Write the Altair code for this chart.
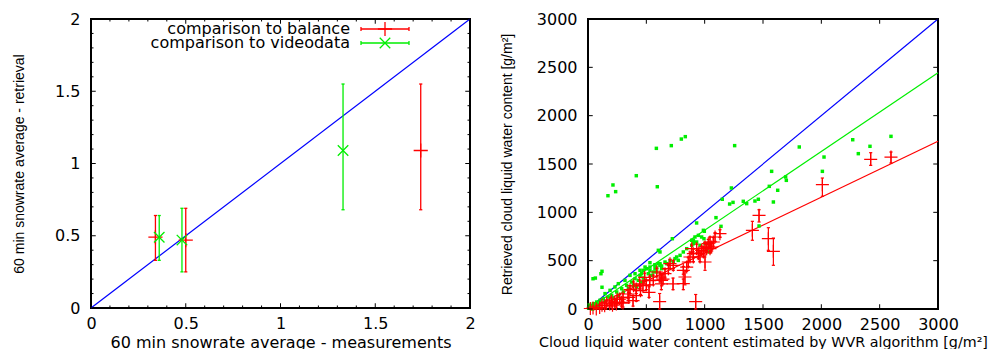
import altair as alt
import pandas as pd

# ---------------- left panel data ----------------
bal_x = [0.34, 0.50, 1.74]
bal_y = [0.49, 0.47, 1.09]
bal_lo = [0.33, 0.25, 0.68]
bal_hi = [0.64, 0.69, 1.55]
vid_x = [0.36, 0.48, 1.33]
vid_y = [0.49, 0.47, 1.09]
vid_lo = [0.33, 0.25, 0.68]
vid_hi = [0.64, 0.69, 1.55]
diag_left_x = [0, 2]
diag_left_y = [0, 2]
series_names = ["comparison to balance", "comparison to videodata"]
left_major = [0, 0.5, 1, 1.5, 2]
left_minor = [0.1, 0.2, 0.3, 0.4, 0.6, 0.7, 0.8, 0.9, 1.1, 1.2, 1.3, 1.4, 1.6, 1.7, 1.8, 1.9]

# ---------------- right panel data ----------------
green_x = [171, 214, 237, 414, 586, 594, 714, 800, 834, 1257,
           1229, 1214, 1243, 1151, 1331, 1360, 1431, 1460, 1466, 1554,
           1574, 1589, 1626, 1694, 1700, 1811, 2009, 2023, 2269, 2317,
           2417, 2597, 1097, 1140, 997, 931, 989, 917, 946, 974,
           994, 889, 903, 931, 1003, 1031, 1046, 1017, 1040, 723,
           603, 617, 760, 903, 889, 960, 846, 817, 789, 746,
           703, 660, 617, 574, 531, 503, 474, 460, 517, 560,
           589, 631, 674, 731, 774, 111, 531, 574, 603, 17,
           31, 46, 60, 74, 103, 131, 146, 174, 203, 217,
           246, 260, 289, 303, 331, 346, 374, 389, 403, 417,
           431, 446, 460, 474, 489, 531, 546, 574, 589, 617,
           631, 317, 360, 260, 231, 403, 446, 489, 146, 189,
           43, 63, 120, 120, 5, 10, 25, 40, 80, 90]
green_y = [1172, 1283, 1214, 1379, 1662, 1265, 1690, 1758, 1783, 1690,
           1252, 1086, 1103, 1135, 1114, 1090, 1117, 1135, 859, 1269,
           1424, 1107, 1228, 1366, 1331, 1676, 1424, 1572, 1751, 1607,
           1683, 1786, 945, 855, 804, 890, 814, 745, 762, 745,
           727, 711, 676, 693, 676, 676, 641, 624, 590, 727,
           607, 590, 538, 711, 659, 659, 624, 590, 555, 521,
           503, 486, 469, 452, 434, 417, 400, 365, 365, 383,
           424, 445, 469, 486, 503, 365, 479, 458, 469, 21,
           38, 55, 31, 72, 90, 107, 79, 124, 141, 107,
           176, 141, 210, 176, 245, 210, 279, 245, 314, 228,
           296, 348, 279, 321, 296, 400, 348, 417, 383, 452,
           417, 296, 348, 262, 228, 365, 400, 434, 159, 193,
           313, 320, 390, 225, 10, 40, 15, 0, 50, 20]

red_x = [1409, 1466, 1546, 1589, 2009, 2423, 2597, 1131, 1089, 1074,
         1046, 1031, 1060, 1046, 1017, 1003, 989, 1003, 974, 960,
         946, 931, 903, 903, 889, 874, 860, 846, 831, 817,
         817, 923, 729, 703, 689, 731, 660, 617, 631, 589,
         629, 643, 614, 523, 486, 529, 471, 443, 414, 414,
         386, 343, 300, 271, 229, 186, 143, 100, 71, 43,
         20, 360, 390, 350, 250, 200, 160, 120, 210, 300,
         450, 560, 500, 243, 286]
red_y = [814, 969, 727, 597, 1286, 1548, 1572, 779, 745, 693,
         693, 676, 641, 624, 624, 641, 590, 486, 607, 538,
         572, 624, 572, 538, 624, 538, 486, 434, 331, 262,
         400, 76, 259, 469, 417, 452, 365, 331, 296, 383,
         259, 310, 76, 172, 328, 293, 241, 259, 207, 138,
         86, 155, 121, 103, 69, 52, 34, 17, 0, 10,
         5, 200, 240, 120, 100, 80, 60, 40, 40, 60,
         190, 300, 250, 52, 69]
red_lo = [711, 900, 607, 452, 1166, 1486, 1510, 740, 700, 650,
          640, 630, 600, 580, 580, 600, 540, 400, 560, 490,
          520, 580, 530, 490, 580, 490, 440, 390, 250, 200,
          360, 0, 200, 420, 370, 400, 320, 280, 240, 340,
          200, 260, 0, 120, 290, 250, 190, 210, 160, 80,
          30, 110, 80, 60, 30, 20, 0, 0, 0, 0,
          0, 160, 200, 70, 60, 40, 30, 10, 0, 20,
          150, 250, 200, 20, 30]
red_hi = [907, 1027, 841, 734, 1355, 1617, 1624, 820, 790, 740,
          745, 720, 690, 670, 670, 690, 640, 560, 650, 590,
          620, 670, 620, 590, 660, 590, 530, 480, 400, 310,
          440, 150, 320, 510, 460, 500, 410, 380, 350, 420,
          320, 360, 160, 230, 370, 340, 290, 300, 250, 190,
          140, 200, 160, 150, 110, 90, 70, 50, 30, 30,
          20, 240, 280, 170, 140, 120, 90, 70, 80, 100,
          230, 350, 300, 90, 110]

fit_x = [0, 3000]
diag_right_y = [0, 3000]
green_fit_y = [0, 2445]
red_fit_y = [0, 1735]
right_major = [0, 500, 1000, 1500, 2000, 2500, 3000]

RED = "#ff0000"
GREEN = "#00ee00"
BLUE = "#0000ff"
FONT = "DejaVu Sans"
VFONT = "Liberation Sans"
FS = 16

PLUS = "M-1,0L1,0M0,-1L0,1"
XMARK = "M-1,-1L1,1M-1,1L1,-1"
HCAP = "M-1,0L1,0"


def xaxis(vals, fmt, title, tfs):
    return alt.Axis(values=vals, format=fmt, title=title, ticks=False, domain=False,
                    grid=False, labelFont=FONT, labelFontSize=FS, labelPadding=7,
                    labelFlush=False, labelColor="black", titleFont=FONT,
                    titleFontSize=tfs, titleFontWeight="normal", titleColor="black",
                    titlePadding=3)


def yaxis(vals, fmt, title, tpad):
    return alt.Axis(values=vals, format=fmt, title=title, ticks=False, domain=False,
                    grid=False, labelFont=FONT, labelFontSize=FS, labelPadding=11,
                    labelFlush=False, labelColor="black", titleFont=VFONT,
                    titleFontSize=14, titleFontWeight="normal", titleColor="black",
                    titlePadding=tpad)


def tick_layers(major, minor, X, Y, W, H):
    layers = []
    for vals, sz in ((major, 90), (minor, 25)):
        if not vals:
            continue
        d = pd.DataFrame({"v": vals})
        base = alt.Chart(d)
        kw = dict(color="black", strokeWidth=1, opacity=1, filled=False)
        layers.append(base.mark_point(shape="M0,0L0,-1", size=sz, **kw).encode(
            x=X("v:Q"), y=alt.value(H)))
        layers.append(base.mark_point(shape="M0,0L0,1", size=sz, **kw).encode(
            x=X("v:Q"), y=alt.value(0)))
        layers.append(base.mark_point(shape="M0,0L1,0", size=sz, **kw).encode(
            y=Y("v:Q"), x=alt.value(0)))
        layers.append(base.mark_point(shape="M0,0L-1,0", size=sz, **kw).encode(
            y=Y("v:Q"), x=alt.value(W)))
    return layers


# ---------------- left panel ----------------
LW, LH = 379, 289
lxs = alt.Scale(domain=[0, 2], nice=False, zero=False)
lys = alt.Scale(domain=[0, 2], nice=False, zero=False)
lxa = xaxis(left_major, "~g", "60 min snowrate average - measurements", FS)
lya = yaxis(left_major, "~g", "60 min snowrate average - retrieval", 28)


def LX(f):
    return alt.X(f, scale=lxs, axis=lxa)


def LY(f):
    return alt.Y(f, scale=lys, axis=lya)


diag_l = alt.Chart(pd.DataFrame({"x": diag_left_x, "y": diag_left_y})).mark_line(
    color=BLUE, strokeWidth=1.2).encode(x=LX("x:Q"), y=LY("y:Q"))

left_layers = [diag_l]
for xs_, ys_, lo_, hi_, col, shp in ((bal_x, bal_y, bal_lo, bal_hi, RED, PLUS),
                                     (vid_x, vid_y, vid_lo, vid_hi, GREEN, XMARK)):
    d = pd.DataFrame({"x": xs_, "y": ys_, "lo": lo_, "hi": hi_})
    b = alt.Chart(d)
    left_layers.append(b.mark_rule(color=col, strokeWidth=1.3).encode(
        x=LX("x:Q"), y=LY("lo:Q"), y2="hi:Q"))
    for f in ("lo", "hi"):
        left_layers.append(b.mark_point(shape=HCAP, size=10, color=col, strokeWidth=1.3,
                                        opacity=1, filled=False).encode(
            x=LX("x:Q"), y=LY(f + ":Q")))
    left_layers.append(b.mark_point(shape=shp, size=200 if shp == PLUS else 110, color=col,
                                    strokeWidth=1.3, opacity=1, filled=False).encode(
        x=LX("x:Q"), y=LY("y:Q")))

# legend (gnuplot style, inside top)
for i, (name, col, shp) in enumerate(((series_names[0], RED, PLUS), (series_names[1], GREEN, XMARK))):
    d = pd.DataFrame({"name": [name]})
    b = alt.Chart(d)
    yy = 10 + 14 * i
    left_layers.append(b.mark_text(align="right", baseline="middle", font=FONT, fontSize=FS,
                                   color="black").encode(
        text="name:N", x=alt.value(259), y=alt.value(yy)))
    left_layers.append(b.mark_rule(color=col, strokeWidth=1.3).encode(
        x=alt.value(270), x2=alt.value(318), y=alt.value(yy)))
    for xx in (270, 318):
        left_layers.append(b.mark_rule(color=col, strokeWidth=1.3).encode(
            x=alt.value(xx), y=alt.value(yy - 2), y2=alt.value(yy + 2)))
    left_layers.append(b.mark_point(shape=shp, size=200 if shp == PLUS else 110, color=col,
                                    strokeWidth=1.3, opacity=1, filled=False).encode(
        x=alt.value(294), y=alt.value(yy)))

left_layers += tick_layers(left_major, left_minor, LX, LY, LW, LH)
left = alt.layer(*left_layers).properties(width=LW, height=LH)

# ---------------- right panel ----------------
RW, RH = 350, 290
rxs = alt.Scale(domain=[0, 3000], nice=False, zero=False)
rys = alt.Scale(domain=[0, 3000], nice=False, zero=False)
rxa = xaxis(right_major, "d", "Cloud liquid water content estimated by WVR algorithm [g/m²]", 14.3)
rya = yaxis(right_major, "d", "Retrieved cloud liquid water content [g/m²]", 22)


def RX(f):
    return alt.X(f, scale=rxs, axis=rxa)


def RY(f):
    return alt.Y(f, scale=rys, axis=rya)


fits = pd.DataFrame({"x": fit_x * 3, "y": diag_right_y + green_fit_y + red_fit_y,
                     "s": ["a", "a", "b", "b", "c", "c"]})
fit_chart = alt.Chart(fits).mark_line(strokeWidth=1.2).encode(
    x=RX("x:Q"), y=RY("y:Q"), detail="s:N",
    color=alt.Color("s:N", scale=alt.Scale(domain=["a", "b", "c"], range=[BLUE, GREEN, RED]),
                    legend=None))

gdf = pd.DataFrame({"x": green_x, "y": green_y})
green_pts = alt.Chart(gdf).mark_square(size=12, color=GREEN, opacity=1).encode(
    x=RX("x:Q"), y=RY("y:Q"))

rdf = pd.DataFrame({"x": red_x, "y": red_y, "lo": red_lo, "hi": red_hi})
rb = alt.Chart(rdf)
red_err = rb.mark_rule(color=RED, strokeWidth=1.2).encode(
    x=RX("x:Q"), y=RY("lo:Q"), y2="hi:Q")
red_caps = [rb.mark_point(shape=HCAP, size=10, color=RED, strokeWidth=1.2, opacity=1,
                          filled=False).encode(x=RX("x:Q"), y=RY(f + ":Q")) for f in ("lo", "hi")]
red_pts = rb.mark_point(shape=PLUS, size=170, color=RED, strokeWidth=1.2, opacity=1,
                        filled=False).encode(x=RX("x:Q"), y=RY("y:Q"))

right_layers = [fit_chart, green_pts, red_err] + red_caps + [red_pts]
right_layers += tick_layers(right_major, [], RX, RY, RW, RH)
right = alt.layer(*right_layers).properties(width=RW, height=RH)

chart = alt.hconcat(left, right, spacing=22).properties(
    padding={"left": 11, "top": 10, "right": 0, "bottom": 0},
    background="white"
).configure_view(stroke="black", strokeWidth=2)

chart.save("out.html", embed_options={"renderer": "svg", "actions": False})
